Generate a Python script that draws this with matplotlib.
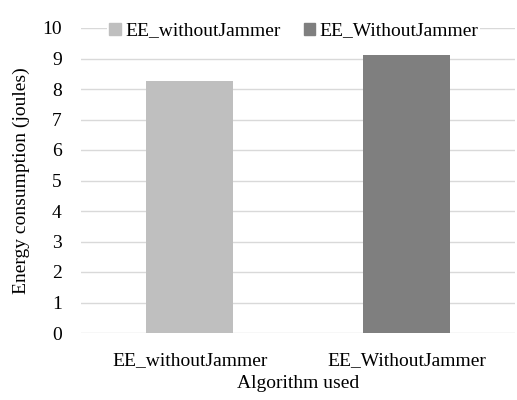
import matplotlib.pyplot as plt
from matplotlib.patches import Patch

categories = ['EE_withoutJammer', 'EE_WithoutJammer']
values = [8.26, 9.11]
colors = ['#bfbfbf', '#7f7f7f']
yticks = list(range(0, 11))

plt.rcParams['font.family'] = ['Liberation Serif', 'DejaVu Serif']

fig = plt.figure(figsize=(5.17, 4.0), dpi=100)
ax = fig.add_axes([0.157, 0.1675, 0.839, 0.7625])

x = range(len(categories))
ax.bar(x, values, width=0.4, color=colors, zorder=3)

ax.set_xlim(-0.5, len(categories) - 0.5)
ax.set_ylim(0, 10)
ax.set_yticks(yticks)
ax.set_xticks(list(x))
ax.set_xticklabels(categories, fontsize=14)
ax.yaxis.set_tick_params(labelsize=14, length=0, pad=14)
ax.xaxis.set_tick_params(length=0, pad=14)
ax.grid(axis='y', color='#d9d9d9', linewidth=1, zorder=0)
for s in ax.spines.values():
    s.set_visible(False)

ax.set_xlabel('Algorithm used', fontsize=14, labelpad=4)
ax.set_ylabel('Energy consumption (joules)', fontsize=14, labelpad=9)

handles = [Patch(color=c, label=l) for c, l in zip(colors, categories)]
ax.legend(handles=handles, loc='center', bbox_to_anchor=(0.49, 0.99), ncol=2,
          frameon=True, facecolor='white', edgecolor='none', fontsize=14,
          handlelength=0.6, handleheight=0.6, handletextpad=0.2,
          columnspacing=1.2, borderpad=0.1, framealpha=1)

fig.savefig('out.png', dpi=100)
